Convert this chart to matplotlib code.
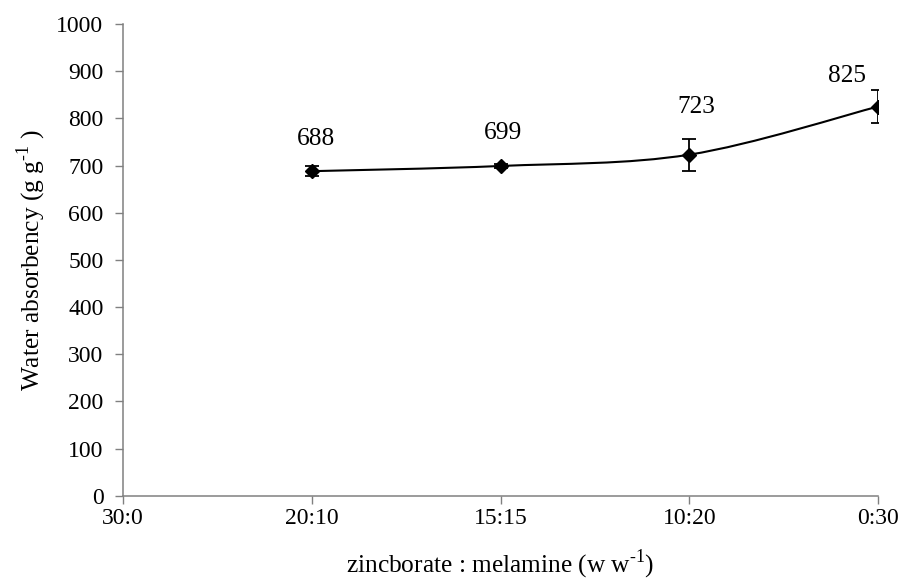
import numpy as np
import matplotlib
matplotlib.use("Agg")
from matplotlib import pyplot as plt
from matplotlib.path import Path
from matplotlib.patches import PathPatch

ratios = ["30:0", "20:10", "15:15", "10:20", "0:30"]
x_pts = [1, 2, 3, 4]
absorbency = [688, 699, 723, 825]
errors = [10, 5, 34, 35]
# where each value label sits relative to its point (points)
label_offsets = [(3, 23), (2, 24), (5, 34), (-22, 22)]

plt.rcParams['font.family'] = ['Liberation Serif', 'DejaVu Serif']
plt.rcParams['mathtext.fontset'] = 'custom'
plt.rcParams['mathtext.rm'] = 'Liberation Serif'

fs_tick = 17
fs_text = 18.3

fig = plt.figure(figsize=(9.01, 5.81), dpi=100)
ax = fig.add_axes([0.1365, 0.1468, 0.838, 0.8119])


def smooth_path(x, y, tension=1 / 6):
    # Catmull-Rom style cubic Bezier through the points
    pts = np.column_stack([x, y]).astype(float)
    verts = [pts[0]]
    codes = [Path.MOVETO]
    n = len(pts)
    for i in range(n - 1):
        p0 = pts[i - 1] if i > 0 else pts[i]
        p1 = pts[i]
        p2 = pts[i + 1]
        p3 = pts[i + 2] if i + 2 < n else pts[i + 1]
        c1 = p1 + (p2 - p0) * tension
        c2 = p2 - (p3 - p1) * tension
        verts += [c1, c2, p2]
        codes += [Path.CURVE4] * 3
    return Path(verts, codes)


ax.add_patch(PathPatch(smooth_path(x_pts, absorbency), fill=False,
                       edgecolor="black", lw=1.5, zorder=2))
ax.errorbar(x_pts, absorbency, yerr=errors, fmt="D", color="black",
            markersize=7, elinewidth=1.3, capsize=5, capthick=1.3, zorder=3)

for x, y, off in zip(x_pts, absorbency, label_offsets):
    ax.annotate(str(y), (x, y), xytext=off, textcoords="offset points",
                ha="center", va="center", fontsize=fs_text)

ax.set_xlim(0, 4)
ax.set_ylim(0, 1000)
ax.set_xticks(range(len(ratios)))
ax.set_xticklabels(ratios)
ax.set_yticks(range(0, 1001, 100))

for side in ["top", "right"]:
    ax.spines[side].set_visible(False)
for side in ["left", "bottom"]:
    ax.spines[side].set_color("#808080")
    ax.spines[side].set_linewidth(1.1)
ax.spines["bottom"].set_zorder(1)
ax.tick_params(axis="both", direction="out", length=6, width=1.0,
               color="#808080", labelsize=fs_tick)
ax.tick_params(axis="y", pad=8)
ax.tick_params(axis="x", pad=3)

ax.set_ylabel(r"Water absorbency (g g$^{\text{-1}}$ )", fontsize=fs_text,
              labelpad=6)
ax.set_xlabel(r"zincborate : melamine (w w$^{\text{-1}}$)",
              fontsize=fs_text, labelpad=14)

fig.savefig("out.png", dpi=100)
